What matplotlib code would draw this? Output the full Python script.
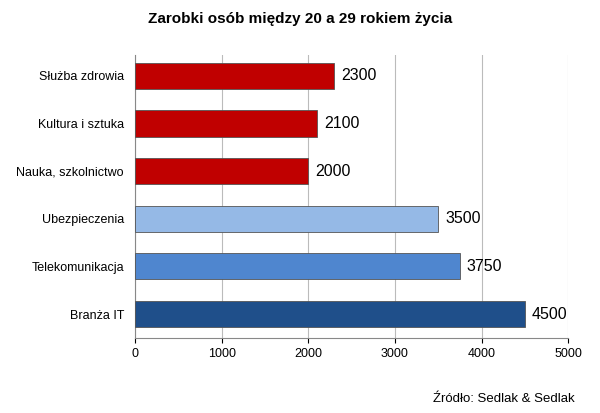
import matplotlib

matplotlib.use("Agg")
import matplotlib.pyplot as plt  # noqa: E402
import numpy as np  # noqa: E402

plt.rcParams["font.family"] = ["Liberation Sans", "DejaVu Sans"]

categories = ["Służba zdrowia", "Kultura i sztuka", "Nauka, szkolnictwo",
              "Ubezpieczenia", "Telekomunikacja", "Branża IT"]
values = [2300, 2100, 2000, 3500, 3750, 4500]
colors = ["#c00000", "#c00000", "#c00000", "#95b9e6", "#4f86cf", "#1f4f8a"]
xticks = [0, 1000, 2000, 3000, 4000, 5000]

fig = plt.figure(figsize=(6, 4.13), dpi=100)
ax = fig.add_axes([0.225, 0.182, 0.722, 0.685])

y = np.arange(len(categories))[::-1]
ax.barh(y, values, height=0.55, color=colors, edgecolor="#555555", linewidth=0.6, zorder=3)
for yi, v in zip(y, values):
    ax.text(v + 80, yi, str(v), va="center", ha="left", fontsize=11.5, zorder=4)

ax.set_yticks(y)
ax.set_yticklabels(categories, fontsize=9)
ax.set_xticks(xticks)
ax.tick_params(axis="x", labelsize=9)
ax.tick_params(axis="y", length=0, pad=8)
ax.set_xlim(0, 5000)
ax.set_ylim(-0.5, len(categories) - 0.56)
ax.grid(axis="x", color="#bbbbbb", linewidth=0.8, zorder=0)
for side in ("top", "right"):
    ax.spines[side].set_visible(False)
ax.spines["left"].set_color("#888888")
ax.spines["bottom"].set_color("#888888")

fig.text(0.5, 0.955, "Zarobki osób między 20 a 29 rokiem życia",
         ha="center", va="center", fontsize=11, fontweight="bold")
fig.text(0.957, 0.035, "Źródło: Sedlak & Sedlak", ha="right", va="center", fontsize=9.5)

fig.savefig("out.png", dpi=100)
